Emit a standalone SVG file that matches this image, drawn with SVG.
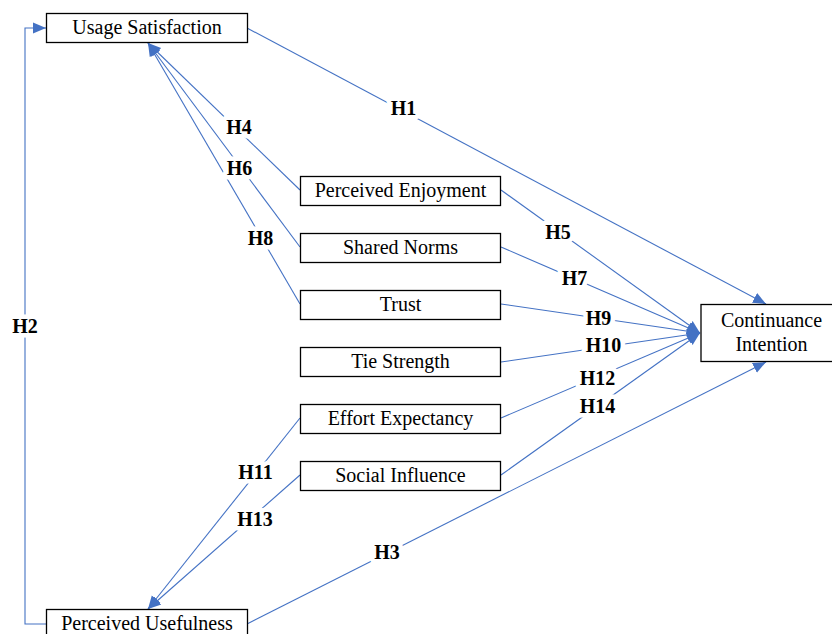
<svg xmlns="http://www.w3.org/2000/svg" width="832" height="634" viewBox="0 0 832 634" font-family="'Liberation Serif', 'Times New Roman', Times, serif">
<style>
.box{fill:#fff;stroke:#000;stroke-width:1.3}
text{font-family:'Liberation Serif','Times New Roman',Times,serif}
.t{font-size:20px;fill:#000;text-anchor:middle}
.c{fill:none;stroke:#4472C4;stroke-width:1.1}
.lb{font-size:20px;font-weight:bold;fill:#000;text-anchor:middle;stroke:#fff;stroke-width:9;paint-order:stroke;stroke-linejoin:round}
</style>
<defs>
<marker id="ah" markerUnits="userSpaceOnUse" markerWidth="14" markerHeight="14" viewBox="0 0 14 14" refX="13" refY="7" orient="auto">
<path d="M0,1.5 L13,7 L0,12.5 Z" fill="#4472C4"/>
</marker>
</defs>
<rect width="832" height="634" fill="#fff"/>
<g id="connectors">
<path class="c" d="M247,28 L766,304" marker-end="url(#ah)"/>
<path class="c" d="M46,624 L25,624 L25,28 L46,28" marker-end="url(#ah)"/>
<path class="c" d="M247,624 L766,362" marker-end="url(#ah)"/>
<path class="c" d="M300,190 L148,43" marker-end="url(#ah)"/>
<path class="c" d="M300,247 L148,43" marker-end="url(#ah)"/>
<path class="c" d="M300,304 L148,43" marker-end="url(#ah)"/>
<path class="c" d="M300,418 L148,609" marker-end="url(#ah)"/>
<path class="c" d="M300,475 L148,609" marker-end="url(#ah)"/>
<path class="c" d="M501,190 L700,333" marker-end="url(#ah)"/>
<path class="c" d="M501,247 L700,333" marker-end="url(#ah)"/>
<path class="c" d="M501,304 L700,333" marker-end="url(#ah)"/>
<path class="c" d="M501,362 L700,333" marker-end="url(#ah)"/>
<path class="c" d="M501,418 L700,333" marker-end="url(#ah)"/>
<path class="c" d="M501,475 L700,333" marker-end="url(#ah)"/>
<g id="labels">
<text class="lb" x="403.5" y="115">H1</text>
<text class="lb" x="25" y="333">H2</text>
<text class="lb" x="387" y="559">H3</text>
<text class="lb" x="239" y="134">H4</text>
<text class="lb" x="558" y="239">H5</text>
<text class="lb" x="239.5" y="175">H6</text>
<text class="lb" x="574.5" y="285">H7</text>
<text class="lb" x="260.5" y="245">H8</text>
<text class="lb" x="598.5" y="325">H9</text>
<text class="lb" x="603.5" y="352">H10</text>
<text class="lb" x="255.5" y="479">H11</text>
<text class="lb" x="597.5" y="385">H12</text>
<text class="lb" x="255" y="526">H13</text>
<text class="lb" x="597.5" y="413">H14</text>
</g>
</g>
<g id="usage-satisfaction"><rect class="box" x="46.5" y="13.5" width="201" height="29"/><text class="t" x="147" y="34">Usage Satisfaction</text></g>
<g id="perceived-usefulness"><rect class="box" x="46.5" y="609.5" width="201" height="40"/><text class="t" x="147" y="630">Perceived Usefulness</text></g>
<g id="perceived-enjoyment"><rect class="box" x="300.5" y="176.5" width="200" height="29"/><text class="t" x="400.5" y="197">Perceived Enjoyment</text></g>
<g id="shared-norms"><rect class="box" x="300.5" y="233.5" width="200" height="29"/><text class="t" x="400.5" y="254">Shared Norms</text></g>
<g id="trust"><rect class="box" x="300.5" y="290.5" width="200" height="29"/><text class="t" x="400.5" y="311">Trust</text></g>
<g id="tie-strength"><rect class="box" x="300.5" y="347.5" width="200" height="29"/><text class="t" x="400.5" y="368">Tie Strength</text></g>
<g id="effort-expectancy"><rect class="box" x="300.5" y="404.5" width="200" height="29"/><text class="t" x="400.5" y="425">Effort Expectancy</text></g>
<g id="social-influence"><rect class="box" x="300.5" y="461.5" width="200" height="29"/><text class="t" x="400.5" y="482">Social Influence</text></g>
<g id="continuance-intention"><rect class="box" x="701" y="304.5" width="141" height="57"/><text class="t" x="771.5" y="327">Continuance</text><text class="t" x="771.5" y="351">Intention</text></g>
</svg>
